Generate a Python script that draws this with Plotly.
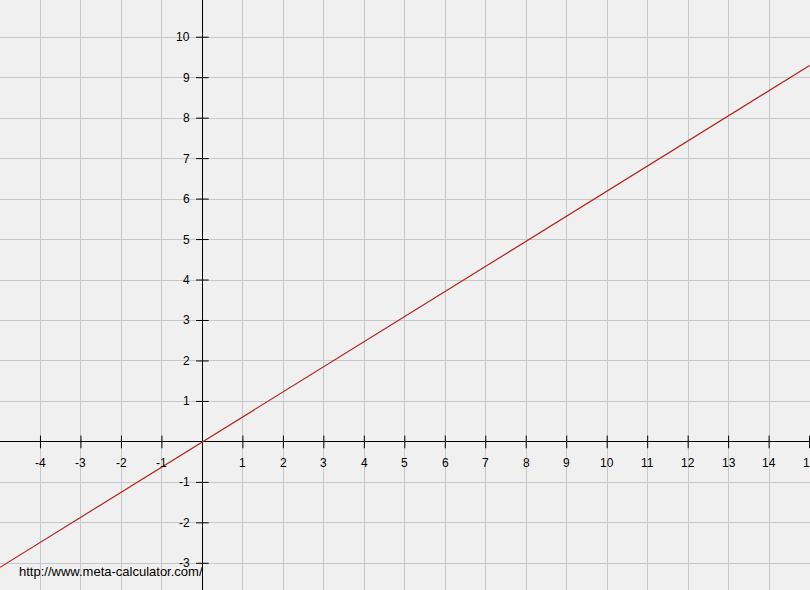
import plotly.graph_objects as go

# function y = 0.62 x, read at the plot edges
line_x = [-5, 15]
line_y = [-3.1, 9.3]

x_ticks = [-4, -3, -2, -1, 1, 2, 3, 4, 5, 6, 7, 8, 9, 10, 11, 12, 13, 14, 15]
y_ticks = [-3, -2, -1, 1, 2, 3, 4, 5, 6, 7, 8, 9, 10]

x_range = [-5.0, 15.01]
y_range = [-3.66, 10.92]

FONT = "Arial, Liberation Sans, sans-serif"

fig = go.Figure()

# the function
fig.add_trace(go.Scatter(x=line_x, y=line_y, mode='lines',
                         line=dict(color='#b22222', width=1.2), hoverinfo='skip'))

# tick marks crossing the axes
fig.add_trace(go.Scatter(x=x_ticks, y=[0] * len(x_ticks), mode='markers',
                         marker=dict(symbol='line-ns', size=9, line=dict(color='black', width=1)),
                         hoverinfo='skip'))
fig.add_trace(go.Scatter(x=[0] * len(y_ticks), y=y_ticks, mode='markers',
                         marker=dict(symbol='line-ew', size=9, line=dict(color='black', width=1)),
                         hoverinfo='skip'))

annotations = []
for k in x_ticks:
    annotations.append(dict(x=k, y=0, xref='x', yref='y', text=str(k), showarrow=False,
                            xanchor='center', yanchor='middle', yshift=-21,
                            font=dict(family=FONT, size=12, color='black')))
for k in y_ticks:
    annotations.append(dict(x=0, y=k, xref='x', yref='y', text=str(k), showarrow=False,
                            xanchor='right', yanchor='middle', xshift=-10,
                            font=dict(family=FONT, size=12, color='black')))

# watermark
annotations.append(dict(x=17 / 810, y=0.032, xref='paper', yref='paper',
                        text='http://www.meta-calculator.com/', showarrow=False,
                        xanchor='left', yanchor='middle',
                        font=dict(family=FONT, size=13, color='black')))

axis_common = dict(showgrid=True, gridcolor='#c8c8c8', gridwidth=1, dtick=1, tick0=0,
                   zeroline=True, zerolinecolor='black', zerolinewidth=1,
                   showticklabels=False, ticks='', showline=False, fixedrange=True)

fig.update_layout(
    width=810, height=590,
    margin=dict(l=0, r=0, t=0, b=0),
    paper_bgcolor='#f0f0f0', plot_bgcolor='#f0f0f0',
    showlegend=False,
    xaxis=dict(range=x_range, **axis_common),
    yaxis=dict(range=y_range, **axis_common),
    annotations=annotations,
)

fig.write_html("out.html", config={'displayModeBar': False},
               post_script="document.body.style.margin='0';")
